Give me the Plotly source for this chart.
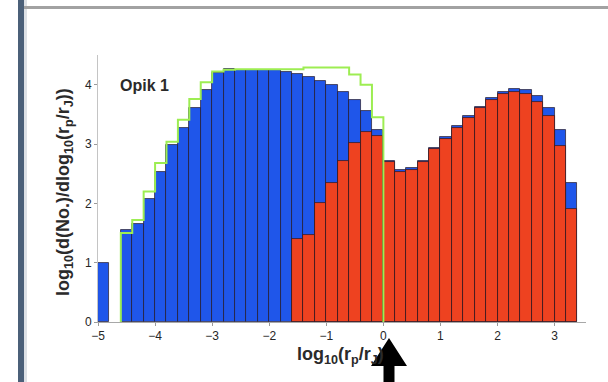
import numpy as np
import plotly.graph_objects as go

# Histogram bins: width 0.2 in log10(rp/rJ), from -5.0 to 3.4
bin_lo = -5.0
bin_width = 0.2
n_bins = 42
bin_centers = np.round(bin_lo + bin_width * (np.arange(n_bins) + 0.5), 3)

# All encounters (blue)
all_counts = [
    1.00, None, 1.55, 1.66, 2.07, 2.53, 2.98, 3.27, 3.60, 3.91,
    4.20, 4.26, 4.25, 4.25, 4.25, 4.24, 4.22, 4.18, 4.13, 4.06,
    3.99, 3.88, 3.75, 3.56, 3.23, 2.71, 2.56, 2.59, 2.72, 2.94,
    3.12, 3.30, 3.47, 3.63, 3.77, 3.87, 3.92, 3.91, 3.81, 3.60,
    3.23, 2.34,
]

# Subset (red)
subset_counts = [
    None, None, None, None, None, None, None, None, None, None,
    None, None, None, None, None, None, None, 1.40, 1.47, 2.00,
    2.34, 2.71, 3.01, 3.20, 3.13, 2.69, 2.53, 2.56, 2.69, 2.91,
    3.09, 3.27, 3.44, 3.60, 3.74, 3.84, 3.87, 3.85, 3.70, 3.47,
    2.97, 1.90,
]

# Comparison distribution (green outline), bins from -4.6 to 0.0
outline_lo = -4.6
outline_counts = [
    1.50, 1.72, 2.20, 2.68, 3.04, 3.41, 3.76, 4.04, 4.22, 4.25,
    4.26, 4.26, 4.26, 4.26, 4.26, 4.26, 4.29, 4.29, 4.29, 4.29,
    4.17, 4.00, 3.45,
]

x_ticks = [-5, -4, -3, -2, -1, 0, 1, 2, 3]
y_ticks = [0, 1, 2, 3, 4]

# Figure geometry
W, H = 608, 382
ML, MR, MT, MB = 98, 22, 55, 60
PW, PH = W - ML - MR, H - MT - MB


def px_x(px):
    return (px - ML) / PW


def px_y(py):
    return (H - MB - py) / PH


outline_edges = np.round(outline_lo + bin_width * np.arange(len(outline_counts) + 1), 3)
step_x = [outline_edges[0]] + list(outline_edges)
step_y = [0] + list(outline_counts) + [outline_counts[-1]]
step_x.append(outline_edges[-1])
step_y.append(0)

edge_line = dict(color="rgba(35,20,30,0.75)", width=0.9)

fig = go.Figure()
fig.add_trace(go.Bar(
    x=bin_centers, y=all_counts, width=bin_width,
    marker=dict(color="#1f56ea", line=edge_line),
))
fig.add_trace(go.Bar(
    x=bin_centers, y=subset_counts, width=bin_width,
    marker=dict(color="#ee4220", line=edge_line),
))
fig.add_trace(go.Scatter(
    x=step_x, y=step_y, mode="lines",
    line=dict(color="#9ded52", width=2, shape="hv"),
))

font_family = "Liberation Sans, Arial, Helvetica, sans-serif"

fig.update_layout(
    width=W, height=H,
    margin=dict(l=ML, r=MR, t=MT, b=MB),
    paper_bgcolor="white", plot_bgcolor="white",
    barmode="overlay", bargap=0, showlegend=False,
    font=dict(family=font_family, size=12, color="#262626"),
    xaxis=dict(
        range=[-5, 3.55], tickvals=x_ticks, ticks="outside", ticklen=3,
        tickcolor="#9a9a9a", showline=True, linecolor="#a8a8a8", linewidth=1,
        showgrid=False, zeroline=False, tickfont=dict(size=12, color="#262626"),
    ),
    yaxis=dict(
        range=[0, 4.5], tickvals=y_ticks, ticks="outside", ticklen=3,
        tickcolor="#9a9a9a", showline=True, linecolor="#c4c4c4", linewidth=1,
        showgrid=False, zeroline=False, tickfont=dict(size=12, color="#262626"),
    ),
    annotations=[
        dict(text="<b>Opik 1</b>", x=px_x(118), y=px_y(85), xref="paper", yref="paper",
             xanchor="left", yanchor="middle", showarrow=False,
             font=dict(size=16, color="#2a2a2a")),
        dict(text="<b>log<sub>10</sub>(d(No.)/dlog<sub>10</sub>(r<sub>p</sub>/r<sub>J</sub>))</b>",
             x=px_x(65), y=px_y(192), xref="paper", yref="paper", textangle=-90,
             xanchor="center", yanchor="middle", showarrow=False,
             font=dict(size=18, color="#2a2a2a")),
        dict(text="<b>log<sub>10</sub>(r<sub>p</sub>/r<sub>J</sub>)</b>",
             x=px_x(340), y=px_y(355), xref="paper", yref="paper",
             xanchor="center", yanchor="middle", showarrow=False,
             font=dict(size=18, color="#2a2a2a")),
    ],
)

# Frame edges of the slide
shapes = [
    dict(type="rect", xref="paper", yref="paper",
         x0=px_x(18), x1=px_x(24), y0=px_y(H), y1=px_y(0),
         fillcolor="#4b6079", line=dict(width=0), layer="above"),
    dict(type="rect", xref="paper", yref="paper",
         x0=px_x(24), x1=px_x(27), y0=px_y(H), y1=px_y(0),
         fillcolor="#dde1e6", line=dict(width=0), layer="above"),
    dict(type="rect", xref="paper", yref="paper",
         x0=px_x(24), x1=px_x(W), y0=px_y(9), y1=px_y(6),
         fillcolor="#a2a2a2", line=dict(width=0), layer="above"),
]

# Upward arrow pointing at the axis
tip = (389, 338)
head_y, head_hw, shaft_hw = 366, 18, 5.5
pts = [
    (tip[0], tip[1]),
    (tip[0] + head_hw, head_y),
    (tip[0] + shaft_hw, head_y),
    (tip[0] + shaft_hw, H + 5),
    (tip[0] - shaft_hw, H + 5),
    (tip[0] - shaft_hw, head_y),
    (tip[0] - head_hw, head_y),
]
path = "M " + " L ".join(f"{px_x(a):.5f},{px_y(b):.5f}" for a, b in pts) + " Z"
shapes.append(dict(type="path", xref="paper", yref="paper", path=path,
                   fillcolor="black", line=dict(width=0), layer="above"))

fig.update_layout(shapes=shapes)

fig.write_html("out.html")
